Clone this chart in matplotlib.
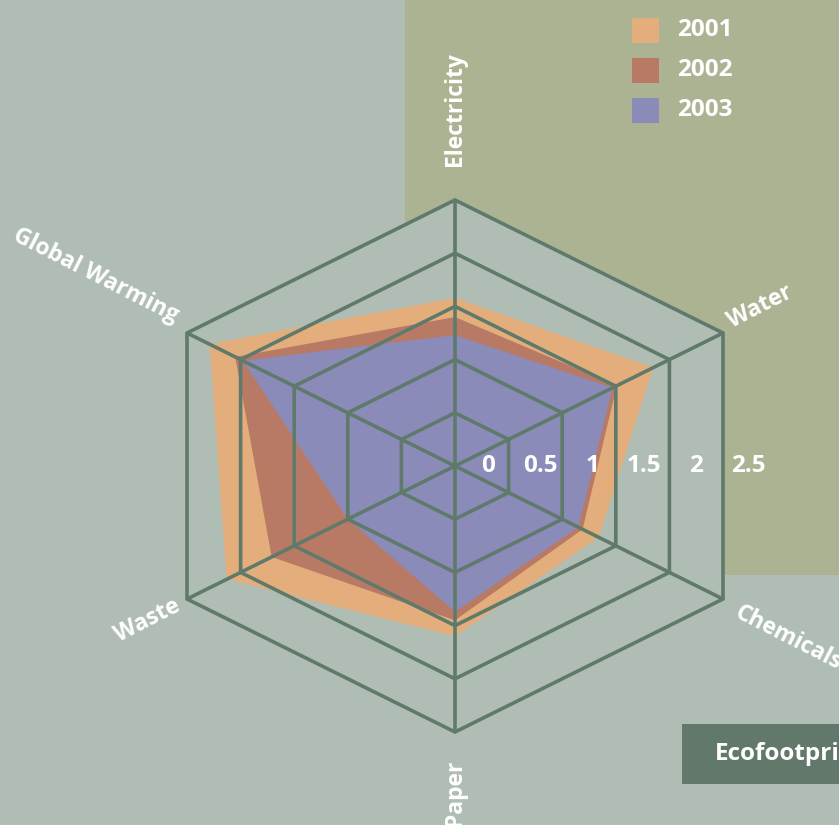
import matplotlib
matplotlib.use("Agg")
import matplotlib.pyplot as plt
from matplotlib.patches import Rectangle, Polygon
import numpy as np

categories = ["Electricity", "Water", "Chemicals", "Paper", "Waste", "Global Warming"]
years = ["2001", "2002", "2003"]
values_2001 = [1.58, 1.85, 1.34, 1.60, 2.13, 2.29]
values_2002 = [1.40, 1.51, 1.19, 1.45, 1.71, 2.05]
values_2003 = [1.23, 1.47, 1.15, 1.37, 1.00, 1.98]
series = [values_2001, values_2002, values_2003]
ticks = [0, 0.5, 1, 1.5, 2, 2.5]
tick_labels = ["0", "0.5", "1", "1.5", "2", "2.5"]

colors = ["#e3ae7c", "#b87a64", "#8a8bb8"]
bg = "#b0bdb4"
olive = "#acb393"
grid = "#5f7a6b"
white = "white"
FONT = ["Open Sans", "DejaVu Sans"]

# axis directions (stretched hexagon)
dirs = np.array([[0, 1], [1, 0.5], [1, -0.5], [0, -1], [-1, -0.5], [-1, 0.5]])

W, H = 839, 825
fig = plt.figure(figsize=(W / 100, H / 100), dpi=100)
fig.patch.set_facecolor(bg)
ax = fig.add_axes([0, 0, 1, 1])
ax.set_facecolor(bg)
cx, cy = 455, 466
ux, uy = 107.2, 106.4
ax.set_xlim(-cx / ux, (W - cx) / ux)
ax.set_ylim((cy - H) / uy, cy / uy)
ax.axis("off")

def px(x, y):
    return ((x - cx) / ux, (cy - y) / uy)

# olive rectangle
ax.add_patch(Rectangle((405 / W, 1 - 575 / H), 1, 575 / H, transform=ax.transAxes,
                       facecolor=olive, edgecolor="none", zorder=0))
# plot area (outer hexagon)
ax.add_patch(Polygon(dirs * ticks[-1], closed=True, facecolor=bg, edgecolor="none", zorder=1))

for vals, col in zip(series, colors):
    pts = dirs * np.array(vals)[:, None]
    ax.add_patch(Polygon(pts, closed=True, facecolor=col, edgecolor="none", zorder=2))

for t in ticks[1:]:
    ax.add_patch(Polygon(dirs * t, closed=True, facecolor="none", edgecolor=grid,
                         lw=2.6, joinstyle="miter", zorder=3))
for d in dirs:
    ax.plot([0, d[0] * ticks[-1]], [0, d[1] * ticks[-1]], color=grid, lw=2.6, zorder=3,
            solid_capstyle="butt")

for t, lab in zip(ticks, tick_labels):
    ax.text(0.31 + 0.97 * t, 0, lab, ha="center", va="center", color=white,
            fontsize=17.5, fontweight="bold", family=FONT, zorder=4)

# category labels
lab_specs = [
    (px(455, 166), 90, "left"),
    (px(729, 323), 27, "left"),
    (px(736, 612), -27, "left"),
    (px(455, 760), 90, "right"),
    (px(179, 605), 27, "right"),
    (px(177, 317), -27, "right"),
]
for name, (pos, rot, ha) in zip(categories, lab_specs):
    ax.text(pos[0], pos[1], name, rotation=rot, rotation_mode="anchor", ha=ha, va="center",
            color=white, fontsize=16.5, fontweight="bold", family=FONT, zorder=4)

# legend
for i, (yr, col) in enumerate(zip(years, colors)):
    y0 = 18 + 40 * i
    ax.add_patch(Rectangle((632 / W, 1 - (y0 + 25) / H), 27 / W, 25 / H, transform=ax.transAxes,
                           facecolor=col, edgecolor="none", zorder=4))
    ax.text(677 / W, 1 - (y0 + 12.5) / H, yr, transform=ax.transAxes, ha="left", va="center",
            color=white, fontsize=17.5, fontweight="bold", family=FONT, zorder=5)

# footer box
ax.add_patch(Rectangle((682 / W, 1 - 784 / H), 0.5, 60 / H, transform=ax.transAxes,
                       facecolor="#61786b", edgecolor="none", zorder=4, clip_on=False))
ax.text(715 / W, 1 - 754 / H, "Ecofootprint", transform=ax.transAxes, ha="left", va="center",
        color=white, fontsize=17.5, fontweight="bold", family=FONT, zorder=5)

fig.savefig("out.png", dpi=100, facecolor=bg)
